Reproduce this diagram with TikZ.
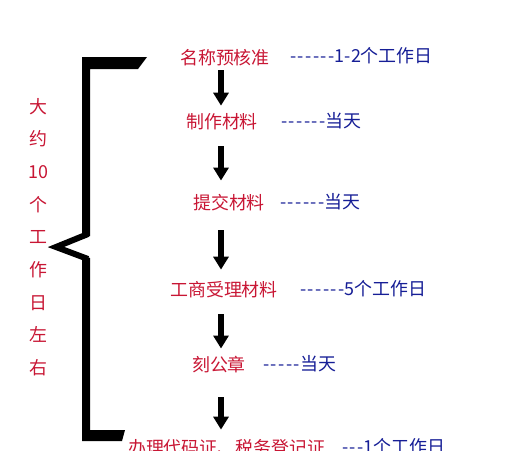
\documentclass[tikz,border=0pt]{standalone}
\usepackage{fontspec}
\setmainfont[Ligatures=TeXOff]{Noto Sans CJK SC}
\usepackage{tikz}
\usetikzlibrary{calc, arrows.meta}

\definecolor{stepred}{RGB}{200,22,52}
\definecolor{timeblue}{RGB}{22,30,150}
\newcommand\dashrun[1]{{\addfontfeature{LetterSpace=8}#1}}

\tikzset{
    stepnode/.style={text=stepred, font=\fontsize{10.2}{12}\selectfont, inner sep=1pt},
    timenode/.style={text=timeblue, font=\fontsize{10.2}{12}\selectfont, anchor=west, inner sep=0pt},
    flow/.style={line width=0.12cm, -{Triangle[length=0.26cm, width=0.3cm]}},
}

\begin{document}
\begin{tikzpicture}[x=0.02cm, y=-0.02cm]
    \useasboundingbox (0,0) rectangle (520,450);
    \clip (0,0) rectangle (520,450);

    % Left brace (upper part, chevron, lower part)
    \fill (82,57) -- (147,57) -- (138,69) -- (90,69) -- (90,236) -- (82,239) -- cycle;
    \draw[line width=0.12cm, line join=miter] (88,234) -- (56,247) -- (88,259);
    \fill (82,255) -- (90,258) -- (90,430) -- (125,430) -- (122,441) -- (82,441) -- cycle;

    % Total time, written top to bottom
    \node[stepnode, align=center, font=\fontsize{10.2}{18.6}\selectfont] (total) at (38,237)
        {大\\约\\10\\个\\工\\作\\日\\左\\右};

    % Steps
    \node[stepnode] (s1) at (225,58) {名称预核准};
    \node[stepnode] (s2) at (222,122) {制作材料};
    \node[stepnode] (s3) at (229,203) {提交材料};
    \node[stepnode] (s4) at (224,290) {工商受理材料};
    \node[stepnode] (s5) at (219,365) {刻公章};
    \node[stepnode, anchor=west] (s6) at (126,448) {办理代码证、税务登记证};

    % Time for each step
    \node[timenode] (t1) at (290,56) {\dashrun{------}1-2个工作日};
    \node[timenode] (t2) at (281,121) {\dashrun{------}当天};
    \node[timenode] (t3) at (280,202) {\dashrun{------}当天};
    \node[timenode] (t4) at (300,289) {\dashrun{------}5个工作日};
    \node[timenode] (t5) at (263,364) {\dashrun{-----}当天};
    \node[timenode] (t6) at (342,447) {\dashrun{---}1个工作日};

    % Arrows between steps
    \coordinate (ax) at (221,0);
    \draw[flow] (s1.south -| ax) ++(0,2) -- ($(s2.north -| ax)+(0,-6)$);
    \draw[flow] ($(s2.south -| ax)+(0,14)$) -- ($(s3.north -| ax)+(0,-12)$);
    \draw[flow] ($(s3.south -| ax)+(0,17)$) -- ($(s4.north -| ax)+(0,-10)$);
    \draw[flow] ($(s4.south -| ax)+(0,14)$) -- ($(s5.north -| ax)+(0,-6)$);
    \draw[flow] ($(s5.south -| ax)+(0,22)$) -- ($(s6.north -| ax)+(0,-8)$);
\end{tikzpicture}
\end{document}
